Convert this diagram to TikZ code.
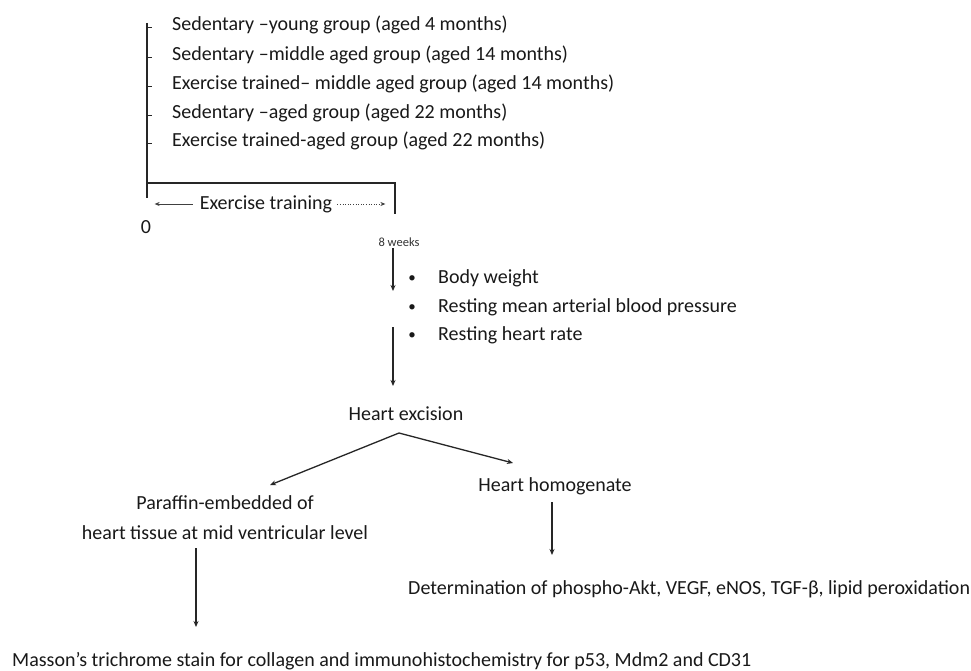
\documentclass[tikz,border=0pt]{standalone}
\usepackage{fontspec}
\setmainfont{Carlito}
\usetikzlibrary{arrows.meta}
\begin{document}
\begin{tikzpicture}[x=1pt,y=-1pt,
  txt/.style={inner sep=0pt, font=\fontsize{20}{30}\selectfont, text=black!90},
  small/.style={inner sep=0pt, font=\fontsize{12.5}{14}\selectfont, text=black!80},
  bul/.style={inner sep=0pt, font=\fontsize{15}{18}\selectfont, text=black!90},
  ln/.style={line width=1.3pt, draw=black!85},
  tick/.style={line width=0.9pt, draw=black!85},
  arr/.style={ln, -{Stealth[length=6pt,width=5pt]}},
  thinarr/.style={line width=0.6pt, draw=black!75, -{Stealth[length=5pt,width=4pt]}}]
\useasboundingbox (0,0) rectangle (971,671);
\fill[white] (0,0) rectangle (971,671);

% groups
\node[txt, anchor=base west] (g1) at (172,31) {Sedentary –young group (aged 4 months)};
\node[txt, anchor=base west] (g2) at (172,61) {Sedentary –middle aged group (aged 14 months)};
\node[txt, anchor=base west] (g3) at (172,90) {Exercise trained– middle aged group (aged 14 months)};
\node[txt, anchor=base west] (g4) at (172,119) {Sedentary –aged group (aged 22 months)};
\node[txt, anchor=base west] (g5) at (172,147) {Exercise trained-aged group (aged 22 months)};

% bracket / timeline
\coordinate (top) at (147,23);
\coordinate (bot) at (147,198);
\coordinate (hl) at (147,183);
\coordinate (hr) at (395,183);
\coordinate (hrb) at (395,214);
\draw[ln] (top) -- (bot);
\draw[ln] (hl) -- (hr) -- (hrb);
\foreach \g in {g1,g2,g3,g4,g5}{
  \draw[tick] (top |- \g.base) ++(0,-4) -- ++(5,0);
}

\node[txt, anchor=base] (et) at (266,209) {Exercise training};
\draw[thinarr] ([xshift=-7pt,yshift=5pt]et.base west) -- ++(-38,0);
\draw[thinarr, dotted] ([xshift=5pt,yshift=5pt]et.base east) -- ++(48,0);

\node[txt, anchor=base] (zero) at (146,233) {0};
\node[small, anchor=base] (w8) at (399,246) {8 weeks};

% measurements
\coordinate (a1s) at (393,248);
\coordinate (a1e) at (393,291);
\draw[arr] (a1s) -- (a1e);
\node[bul, anchor=base] (b1) at (412,282) {•};
\node[bul, anchor=base] (b2) at (412,311) {•};
\node[bul, anchor=base] (b3) at (412,339) {•};
\node[txt, anchor=base west] (m1) at (438,283) {Body weight};
\node[txt, anchor=base west] (m2) at (438,312) {Resting mean arterial blood pressure};
\node[txt, anchor=base west] (m3) at (438,340) {Resting heart rate};

\coordinate (a2s) at (393,327);
\coordinate (a2e) at (393,386);
\draw[arr] (a2s) -- (a2e);
\node[txt, anchor=base] (he) at (406,420) {Heart excision};

% branches
\coordinate (apex) at (399,433);
\node[txt, anchor=base] (hh) at (555,491) {Heart homogenate};
\node[txt, anchor=base, align=center] (pe) at (225,539) {Paraffin-embedded of\\heart tissue at mid ventricular level};
\coordinate (pl) at (270,485);
\coordinate (pr) at (513,463);
\draw[arr] (apex) -- (pl);
\draw[arr] (apex) -- (pr);

\node[txt, anchor=base west] (det) at (408,594) {Determination of phospho-Akt, VEGF, eNOS, TGF-β, lipid peroxidation};
\node[txt, anchor=base west] (mas) at (12,666) {Masson’s trichrome stain for collagen and immunohistochemistry for p53, Mdm2 and CD31};

\coordinate (hhs) at (552,502);
\coordinate (hhe) at (552,555);
\draw[arr] (hhs) -- (hhe);
\coordinate (pes) at (196,548);
\coordinate (pee) at (196,627);
\draw[arr] (pes) -- (pee);
\end{tikzpicture}
\end{document}
